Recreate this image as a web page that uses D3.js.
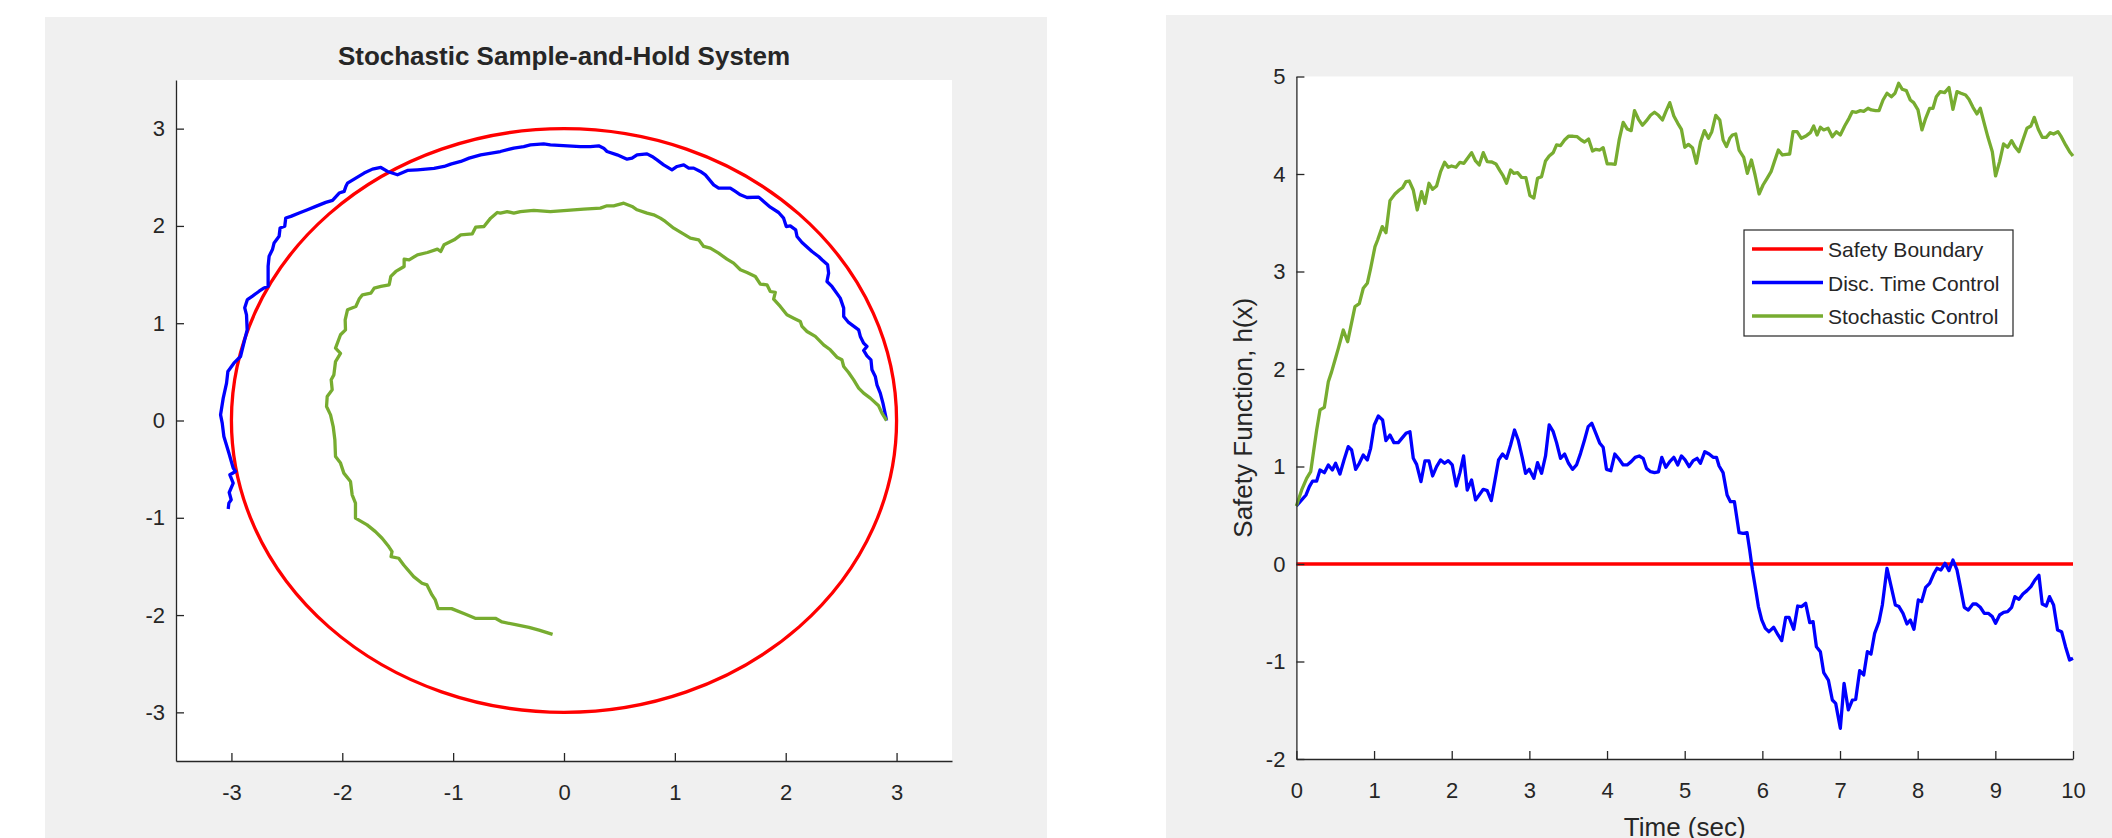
<!DOCTYPE html>
<html>
<head>
<meta charset="utf-8">
<script src="https://cdn.jsdelivr.net/npm/d3@7"></script>
<style>
  html, body { margin: 0; padding: 0; background: #ffffff; }
  svg { display: block; }
  text { font-family: "Liberation Sans", Arial, Helvetica, sans-serif; fill: #262626; }
</style>
</head>
<body>
<svg id="chart" width="2112" height="838"></svg>
<script>
// ---------------- DATA ----------------
const phaseTicks = [-3, -2, -1, 0, 1, 2, 3];
const timeTicks = [0, 1, 2, 3, 4, 5, 6, 7, 8, 9, 10];
const safetyTicks = [-2, -1, 0, 1, 2, 3, 4, 5];
const phaseTitle = "Stochastic Sample-and-Hold System";
const timeLabel = "Time (sec)";
const safetyLabel = "Safety Function, h(x)";
const legendNames = ["Safety Boundary", "Disc. Time Control", "Stochastic Control"];
const safetyRadius = 3;              // boundary circle x^2 + y^2 = 9
const boundaryTime = [0, 10];        // h(x) = 0 boundary in time plot
const boundaryValue = [0, 0];

// phase-plane trajectory, discrete-time control [x1, x2]
const discTrajectory = [
  [2.91,0],[2.877,0.178],[2.853,0.281],[2.823,0.367],[2.808,0.453],[2.778,0.521],[2.769,0.624],
  [2.733,0.665],[2.703,0.72],[2.733,0.761],[2.703,0.795],[2.673,0.864],[2.658,0.932],[2.567,1.008],
  [2.523,1.069],[2.523,1.155],[2.492,1.258],[2.417,1.378],[2.372,1.429],[2.387,1.515],[2.378,1.6],
  [2.327,1.652],[2.297,1.686],[2.237,1.737],[2.147,1.83],[2.102,1.891],[2.09,1.96],[2.041,2.001],
  [2.005,1.994],[1.981,2.08],[1.936,2.138],[1.861,2.193],[1.801,2.251],[1.756,2.296],[1.651,2.292],
  [1.591,2.32],[1.546,2.354],[1.5,2.388],[1.395,2.388],[1.35,2.422],[1.275,2.525],[1.23,2.56],
  [1.17,2.594],[1.125,2.594],[1.08,2.628],[1.02,2.611],[0.974,2.577],[0.899,2.628],[0.839,2.679],
  [0.794,2.714],[0.749,2.741],[0.659,2.731],[0.614,2.696],[0.569,2.686],[0.479,2.731],[0.388,2.765],
  [0.358,2.799],[0.313,2.823],[0.238,2.816],[0.148,2.816],[-0.123,2.834],[-0.183,2.844],[-0.303,2.834],
  [-0.363,2.816],[-0.453,2.8],[-0.574,2.765],[-0.751,2.731],[-0.856,2.697],[-0.931,2.663],[-1.022,2.635],
  [-1.082,2.611],[-1.172,2.591],[-1.247,2.584],[-1.322,2.577],[-1.412,2.57],[-1.502,2.526],[-1.592,2.56],
  [-1.652,2.601],[-1.728,2.584],[-1.803,2.543],[-1.878,2.492],[-1.953,2.44],[-1.968,2.406],[-1.983,2.355],
  [-2.028,2.338],[-2.088,2.263],[-2.149,2.242],[-2.239,2.201],[-2.314,2.167],[-2.389,2.132],[-2.464,2.098],
  [-2.51,2.081],[-2.519,1.996],[-2.561,1.979],[-2.57,1.894],[-2.615,1.825],[-2.63,1.757],[-2.66,1.688],
  [-2.669,1.586],[-2.669,1.38],[-2.705,1.363],[-2.75,1.329],[-2.81,1.278],[-2.856,1.243],[-2.88,1.158],
  [-2.864,1.086],[-2.858,0.932],[-2.888,0.795],[-2.918,0.658],[-2.978,0.589],[-3.032,0.504],[-3.044,0.384],
  [-3.074,0.23],[-3.098,0.058],[-3.083,-0.027],[-3.068,-0.164],[-3.023,-0.335],[-2.984,-0.49],[-2.963,-0.524],
  [-3.014,-0.558],[-2.984,-0.644],[-3.02,-0.74],[-3.002,-0.815],[-3.023,-0.849],[-3.029,-0.91]
];

// phase-plane trajectory, stochastic control [x1, x2]
const stochTrajectory = [
  [2.91,0],[2.868,0.076],[2.838,0.151],[2.763,0.23],[2.703,0.281],[2.658,0.333],[2.613,0.418],
  [2.567,0.494],[2.523,0.555],[2.507,0.624],[2.462,0.651],[2.402,0.727],[2.342,0.778],[2.267,0.864],
  [2.192,0.915],[2.147,0.967],[2.132,1.018],[2.072,1.052],[2.011,1.086],[1.951,1.172],[1.891,1.247],
  [1.906,1.316],[1.861,1.326],[1.831,1.395],[1.771,1.402],[1.726,1.48],[1.651,1.521],[1.591,1.549],
  [1.53,1.617],[1.47,1.658],[1.395,1.72],[1.32,1.771],[1.26,1.789],[1.215,1.857],[1.14,1.874],
  [1.065,1.926],[0.99,1.977],[0.914,2.046],[0.869,2.08],[0.809,2.114],[0.749,2.131],[0.659,2.166],
  [0.614,2.2],[0.539,2.234],[0.448,2.207],[0.388,2.207],[0.328,2.183],[0.178,2.172],[0.028,2.159],
  [-0.123,2.148],[-0.273,2.159],[-0.393,2.148],[-0.453,2.131],[-0.513,2.148],[-0.574,2.131],[-0.602,2.138],
  [-0.662,2.08],[-0.722,1.994],[-0.797,1.987],[-0.827,1.919],[-0.931,1.908],[-0.991,1.857],[-1.082,1.806],
  [-1.112,1.737],[-1.142,1.761],[-1.232,1.727],[-1.322,1.703],[-1.397,1.651],[-1.442,1.658],[-1.442,1.583],
  [-1.517,1.532],[-1.562,1.481],[-1.577,1.395],[-1.652,1.378],[-1.712,1.361],[-1.742,1.309],[-1.818,1.292],
  [-1.848,1.248],[-1.878,1.172],[-1.953,1.138],[-1.974,1.035],[-1.971,0.932],[-2.016,0.881],[-2.061,0.744],
  [-2.016,0.69],[-2.061,0.606],[-2.076,0.469],[-2.1,0.418],[-2.091,0.315],[-2.136,0.247],[-2.142,0.144],
  [-2.106,0.058],[-2.082,-0.062],[-2.067,-0.198],[-2.061,-0.37],[-2.016,-0.438],[-1.986,-0.541],[-1.926,-0.627],
  [-1.911,-0.764],[-1.881,-0.85],[-1.881,-1.004],[-1.776,-1.073],[-1.701,-1.142],[-1.641,-1.21],[-1.581,-1.296],
  [-1.551,-1.347],[-1.56,-1.399],[-1.491,-1.416],[-1.446,-1.485],[-1.356,-1.605],[-1.281,-1.673],[-1.236,-1.69],
  [-1.191,-1.793],[-1.161,-1.844],[-1.135,-1.934],[-1.014,-1.934],[-0.893,-1.989],[-0.801,-2.033],[-0.619,-2.033],
  [-0.559,-2.071],[-0.437,-2.099],[-0.316,-2.126],[-0.225,-2.154],[-0.103,-2.198]
];

// safety function over time, discrete-time control [t, h]
const discSafety = [
  [0,0.595],[0.068,0.657],[0.124,0.708],[0.167,0.793],[0.209,0.851],[0.261,0.851],[0.304,0.964],[0.36,0.937],
  [0.411,1.016],[0.463,0.964],[0.505,1.033],[0.561,0.923],[0.613,1.067],[0.668,1.204],[0.711,1.169],[0.763,0.971],
  [0.81,1.033],[0.861,1.118],[0.913,1.067],[0.956,1.186],[1.003,1.426],[1.055,1.518],[1.11,1.477],[1.153,1.265],
  [1.205,1.323],[1.256,1.245],[1.312,1.245],[1.368,1.299],[1.411,1.34],[1.462,1.357],[1.505,1.084],[1.548,1.022],
  [1.604,0.845],[1.655,1.057],[1.707,1.057],[1.754,0.903],[1.805,0.998],[1.857,1.067],[1.908,1.033],[1.955,1.06],
  [2.007,1.016],[2.058,0.8],[2.106,0.937],[2.153,1.108],[2.2,0.759],[2.256,0.862],[2.307,0.657],[2.354,0.708],
  [2.406,0.766],[2.457,0.752],[2.509,0.65],[2.556,0.855],[2.603,1.067],[2.655,1.128],[2.706,1.084],[2.758,1.221],
  [2.809,1.374],[2.856,1.272],[2.908,1.094],[2.951,0.93],[2.998,0.971],[3.058,0.879],[3.105,1.04],[3.157,0.93],
  [3.208,1.108],[3.255,1.426],[3.307,1.357],[3.35,1.245],[3.401,1.084],[3.453,1.128],[3.504,1.033],[3.556,0.971],
  [3.607,1.016],[3.659,1.135],[3.71,1.272],[3.757,1.409],[3.804,1.443],[3.856,1.34],[3.907,1.238],[3.95,1.197],
  [3.993,0.971],[4.049,0.957],[4.1,1.128],[4.156,1.074],[4.208,1.016],[4.259,1.016],[4.311,1.05],[4.362,1.094],
  [4.414,1.108],[4.465,1.084],[4.508,0.981],[4.56,0.947],[4.611,0.937],[4.662,0.944],[4.705,1.094],[4.757,0.992],
  [4.808,1.05],[4.86,1.094],[4.911,1.016],[4.958,1.108],[5.005,1.067],[5.057,0.998],[5.109,1.06],[5.16,1.084],
  [5.203,1.033],[5.259,1.152],[5.314,1.128],[5.366,1.094],[5.409,1.094],[5.443,1.005],[5.494,0.937],[5.546,0.708],
  [5.589,0.639],[5.64,0.639],[5.7,0.321],[5.752,0.315],[5.803,0.321],[5.837,0.144],[5.872,-0.061],[5.915,-0.267],
  [5.949,-0.437],[5.992,-0.574],[6.039,-0.66],[6.086,-0.694],[6.146,-0.649],[6.202,-0.728],[6.249,-0.786],[6.301,-0.547],
  [6.344,-0.547],[6.404,-0.67],[6.455,-0.431],[6.507,-0.437],[6.558,-0.403],[6.61,-0.602],[6.653,-0.591],[6.696,-0.848],
  [6.747,-0.899],[6.79,-1.114],[6.85,-1.19],[6.901,-1.395],[6.944,-1.429],[7.004,-1.685],[7.052,-1.224],[7.107,-1.497],
  [7.159,-1.395],[7.202,-1.388],[7.253,-1.094],[7.305,-1.138],[7.352,-0.899],[7.399,-0.923],[7.446,-0.711],[7.502,-0.591],
  [7.545,-0.42],[7.605,-0.044],[7.661,-0.239],[7.712,-0.42],[7.759,-0.437],[7.811,-0.506],[7.862,-0.615],[7.905,-0.574],
  [7.952,-0.67],[8.008,-0.369],[8.051,-0.386],[8.103,-0.239],[8.154,-0.198],[8.206,-0.103],[8.249,-0.044],[8.3,-0.061],
  [8.352,0.007],[8.403,-0.068],[8.454,0.041],[8.506,-0.061],[8.549,-0.232],[8.6,-0.444],[8.652,-0.472],[8.712,-0.41],
  [8.755,-0.41],[8.806,-0.444],[8.858,-0.506],[8.909,-0.506],[8.961,-0.54],[9.003,-0.608],[9.055,-0.523],[9.107,-0.496],
  [9.158,-0.489],[9.21,-0.444],[9.252,-0.335],[9.304,-0.362],[9.355,-0.308],[9.407,-0.273],[9.458,-0.232],[9.51,-0.164],
  [9.561,-0.116],[9.604,-0.41],[9.656,-0.431],[9.698,-0.335],[9.75,-0.42],[9.801,-0.677],[9.853,-0.694],[9.904,-0.848],
  [9.956,-0.985],[10,-0.967]
];

// safety function over time, stochastic control [t, h]
const stochSafety = [
  [0,0.595],[0.068,0.76],[0.132,0.879],[0.184,0.947],[0.218,1.135],[0.261,1.374],[0.304,1.58],[0.36,1.607],
  [0.411,1.87],[0.454,1.973],[0.497,2.092],[0.54,2.212],[0.604,2.4],[0.66,2.28],[0.754,2.64],[0.81,2.67],
  [0.861,2.828],[0.913,2.879],[0.956,3.033],[1.012,3.255],[1.046,3.323],[1.106,3.46],[1.153,3.398],[1.205,3.727],
  [1.269,3.795],[1.325,3.836],[1.368,3.86],[1.411,3.922],[1.453,3.928],[1.505,3.836],[1.556,3.631],[1.612,3.819],
  [1.655,3.699],[1.707,3.905],[1.754,3.843],[1.805,3.877],[1.857,4.024],[1.908,4.12],[1.955,4.069],[1.998,4.082],
  [2.054,4.069],[2.106,4.12],[2.157,4.11],[2.204,4.161],[2.256,4.219],[2.307,4.134],[2.354,4.093],[2.406,4.219],
  [2.457,4.127],[2.517,4.123],[2.569,4.103],[2.62,4.034],[2.663,3.98],[2.706,3.905],[2.758,4.041],[2.8,4.007],
  [2.848,4.014],[2.899,3.966],[2.955,3.963],[3.007,3.778],[3.058,3.754],[3.105,3.956],[3.157,3.973],[3.208,4.134],
  [3.255,4.185],[3.307,4.219],[3.35,4.298],[3.401,4.291],[3.453,4.349],[3.504,4.387],[3.564,4.387],[3.616,4.383],
  [3.667,4.349],[3.71,4.328],[3.762,4.359],[3.813,4.236],[3.856,4.253],[3.907,4.246],[3.95,4.27],[4.002,4.103],
  [4.053,4.103],[4.105,4.099],[4.156,4.349],[4.208,4.53],[4.259,4.462],[4.311,4.445],[4.354,4.65],[4.405,4.561],
  [4.457,4.5],[4.508,4.547],[4.56,4.602],[4.611,4.633],[4.662,4.602],[4.714,4.554],[4.757,4.64],[4.808,4.732],
  [4.86,4.595],[4.911,4.52],[4.958,4.458],[5.001,4.274],[5.048,4.304],[5.1,4.27],[5.151,4.11],[5.203,4.325],
  [5.254,4.445],[5.306,4.366],[5.349,4.434],[5.4,4.602],[5.452,4.554],[5.495,4.349],[5.538,4.281],[5.58,4.366],
  [5.614,4.4],[5.657,4.41],[5.7,4.246],[5.76,4.171],[5.807,4.007],[5.859,4.144],[5.906,3.99],[5.958,3.795],
  [6.009,3.887],[6.061,3.956],[6.112,4.024],[6.155,4.127],[6.206,4.246],[6.258,4.195],[6.309,4.202],[6.352,4.205],
  [6.395,4.434],[6.447,4.434],[6.502,4.366],[6.567,4.393],[6.618,4.424],[6.661,4.492],[6.704,4.4],[6.747,4.479],
  [6.79,4.452],[6.846,4.469],[6.901,4.383],[6.953,4.434],[7.004,4.4],[7.06,4.492],[7.116,4.571],[7.159,4.64],
  [7.21,4.633],[7.262,4.65],[7.305,4.643],[7.36,4.674],[7.403,4.657],[7.459,4.65],[7.502,4.65],[7.554,4.759],
  [7.605,4.828],[7.661,4.793],[7.708,4.828],[7.755,4.93],[7.802,4.869],[7.854,4.855],[7.905,4.759],[7.948,4.732],
  [8.004,4.657],[8.055,4.452],[8.103,4.571],[8.154,4.674],[8.197,4.674],[8.24,4.793],[8.291,4.845],[8.347,4.834],
  [8.403,4.886],[8.454,4.663],[8.506,4.845],[8.557,4.828],[8.617,4.81],[8.66,4.766],[8.712,4.684],[8.763,4.616],
  [8.806,4.674],[8.862,4.503],[8.905,4.376],[8.961,4.229],[9.003,3.98],[9.055,4.127],[9.106,4.308],[9.158,4.274],
  [9.209,4.342],[9.252,4.281],[9.304,4.229],[9.355,4.349],[9.407,4.469],[9.458,4.492],[9.501,4.581],[9.553,4.458],
  [9.604,4.376],[9.656,4.376],[9.707,4.424],[9.75,4.41],[9.806,4.434],[9.849,4.383],[9.905,4.298],[9.956,4.229],
  [10,4.185]
];

// ---------------- STYLE ----------------
const RED = "#ff0000", BLUE = "#0000ff", GREEN = "#77ac30";
const AXIS = "#262626", FIGBG = "#f0f0f0";
const LW = 3.3;

const svg = d3.select("#chart");

// figure backgrounds
svg.append("rect").attr("x", 45).attr("y", 17).attr("width", 1002).attr("height", 821).attr("fill", FIGBG);
svg.append("rect").attr("x", 1166).attr("y", 15).attr("width", 946).attr("height", 823).attr("fill", FIGBG);

function styleAxis(g, size) {
  g.attr("font-family", null).attr("font-size", null);
  g.select(".domain").attr("stroke", AXIS).attr("stroke-width", 1.3);
  g.selectAll(".tick line").attr("stroke", AXIS).attr("stroke-width", 1.3);
  g.selectAll(".tick text").attr("fill", AXIS).style("font-size", size + "px");
}

// ---------------- LEFT: phase plane ----------------
const L = { x0: 176, x1: 952, y0: 80, y1: 761 };
const px = d3.scaleLinear().domain([-3.5, 3.5]).range([L.x0, L.x1]);
const py = d3.scaleLinear().domain([-3.5, 3.5]).range([L.y1, L.y0]);

svg.append("rect").attr("x", L.x0).attr("y", L.y0).attr("width", L.x1 - L.x0).attr("height", L.y1 - L.y0).attr("fill", "#ffffff");

const lg = svg.append("g");
lg.append("ellipse")
  .attr("cx", px(0)).attr("cy", py(0))
  .attr("rx", px(safetyRadius) - px(0)).attr("ry", py(0) - py(safetyRadius))
  .attr("fill", "none").attr("stroke", RED).attr("stroke-width", LW);

const phaseLine = d3.line().x(d => px(d[0])).y(d => py(d[1]));
lg.append("path").attr("d", phaseLine(discTrajectory))
  .attr("fill", "none").attr("stroke", BLUE).attr("stroke-width", LW).attr("stroke-linejoin", "round");
lg.append("path").attr("d", phaseLine(stochTrajectory))
  .attr("fill", "none").attr("stroke", GREEN).attr("stroke-width", LW).attr("stroke-linejoin", "round");

const lxAxis = svg.append("g").attr("transform", `translate(0,${L.y1})`)
  .call(d3.axisBottom(px).tickValues(phaseTicks).tickFormat(d => String(d)).tickSizeInner(-8).tickSizeOuter(0).tickPadding(23));
styleAxis(lxAxis, 22);
const lyAxis = svg.append("g").attr("transform", `translate(${L.x0},0)`)
  .call(d3.axisLeft(py).tickValues(phaseTicks).tickFormat(d => String(d)).tickSizeInner(-8).tickSizeOuter(0).tickPadding(11));
styleAxis(lyAxis, 22);

svg.append("text").attr("x", (L.x0 + L.x1) / 2).attr("y", 65)
  .attr("text-anchor", "middle").style("font-size", "26px").style("font-weight", "bold")
  .attr("fill", "#000").text(phaseTitle);

// ---------------- RIGHT: safety function ----------------
const R = { x0: 1296.4, x1: 2073, y0: 76.5, y1: 759 };
const tx = d3.scaleLinear().domain([0, 10]).range([R.x0, R.x1]);
const hy = d3.scaleLinear().domain([-2, 5]).range([R.y1, R.y0]);

svg.append("rect").attr("x", R.x0).attr("y", R.y0).attr("width", R.x1 - R.x0).attr("height", R.y1 - R.y0).attr("fill", "#ffffff");

const tLine = d3.line().x(d => tx(d[0])).y(d => hy(d[1]));
const rg = svg.append("g");
rg.append("path").attr("d", tLine(boundaryTime.map((t, i) => [t, boundaryValue[i]])))
  .attr("fill", "none").attr("stroke", RED).attr("stroke-width", LW);
rg.append("path").attr("d", tLine(discSafety))
  .attr("fill", "none").attr("stroke", BLUE).attr("stroke-width", LW).attr("stroke-linejoin", "round");
rg.append("path").attr("d", tLine(stochSafety))
  .attr("fill", "none").attr("stroke", GREEN).attr("stroke-width", LW).attr("stroke-linejoin", "round");

const rxAxis = svg.append("g").attr("transform", `translate(0,${R.y1})`)
  .call(d3.axisBottom(tx).tickValues(timeTicks).tickFormat(d => String(d)).tickSizeInner(-8).tickSizeOuter(0).tickPadding(23));
styleAxis(rxAxis, 22);
const ryAxis = svg.append("g").attr("transform", `translate(${R.x0},0)`)
  .call(d3.axisLeft(hy).tickValues(safetyTicks).tickFormat(d => String(d)).tickSizeInner(-8).tickSizeOuter(0).tickPadding(11));
styleAxis(ryAxis, 22);

svg.append("text").attr("x", (R.x0 + R.x1) / 2).attr("y", 836)
  .attr("text-anchor", "middle").style("font-size", "26px").text(timeLabel);
svg.append("text").attr("transform", `translate(1252,${(R.y0 + R.y1) / 2}) rotate(-90)`)
  .attr("text-anchor", "middle").style("font-size", "26px").text(safetyLabel);

// legend
const leg = svg.append("g");
leg.append("rect").attr("x", 1744).attr("y", 230).attr("width", 269).attr("height", 106)
  .attr("fill", "#ffffff").attr("stroke", AXIS).attr("stroke-width", 1.2);
const legColors = [RED, BLUE, GREEN];
const legRows = [249, 282.5, 316];
legendNames.forEach((name, i) => {
  leg.append("line").attr("x1", 1752).attr("x2", 1823).attr("y1", legRows[i]).attr("y2", legRows[i])
    .attr("stroke", legColors[i]).attr("stroke-width", LW);
  leg.append("text").attr("x", 1828).attr("y", legRows[i] + 8).style("font-size", "21px")
    .attr("fill", "#000").text(name);
});
</script>
</body>
</html>
